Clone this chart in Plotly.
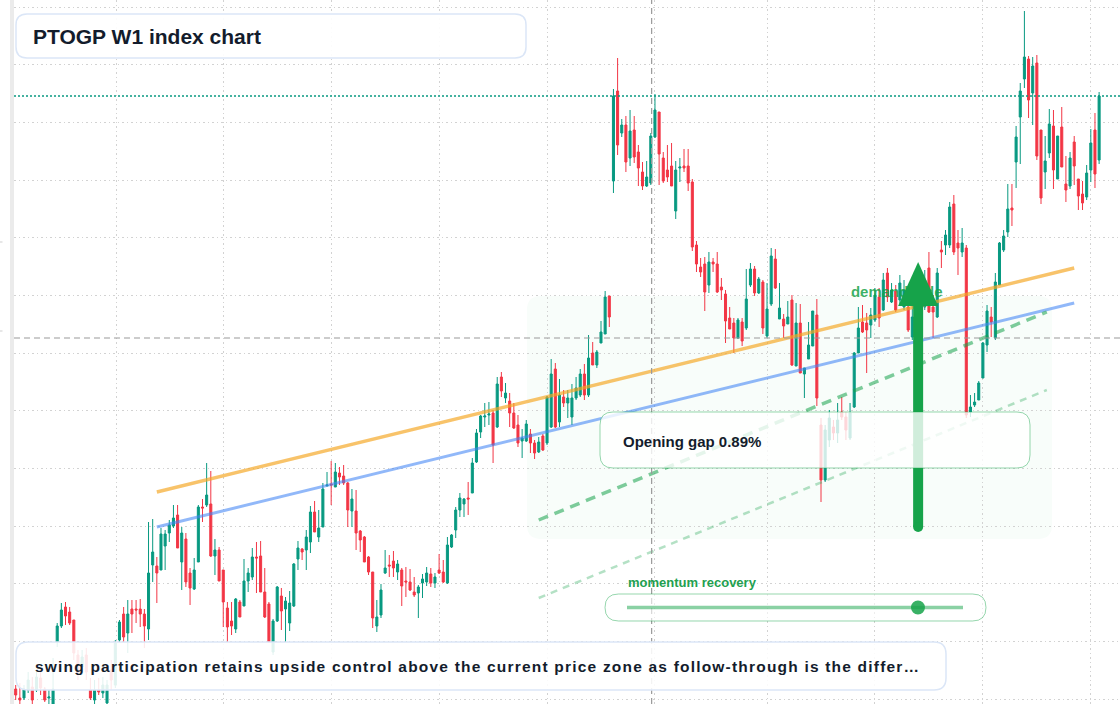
import plotly.graph_objects as go

# ---------------- data (weekly bars, index points) ----------------
open_ = [311, 302, 302, 310, 313, 310, 322, 311, 302, 296,
         358, 374, 393, 388, 380, 345, 333, 345, 310, 300,
         310, 307, 297, 330, 315, 360, 386, 367, 391, 391,
         391, 386, 371, 435, 434, 430, 454, 467, 474, 485,
         438, 461, 427, 411, 438, 493, 495, 496, 444, 450,
         430, 392, 379, 371, 398, 394, 419, 423, 443, 444,
         408, 396, 348, 379, 404, 391, 377, 394, 441, 451,
         450, 458, 488, 463, 473, 514, 516, 513, 527, 524,
         517, 489, 489, 469, 463, 443, 428, 374, 385, 427,
         435, 439, 428, 430, 419, 418, 408, 407, 417, 418,
         426, 417, 430, 428, 417, 453, 470, 490, 496, 502,
         507, 538, 568, 583, 585, 587, 573, 623, 602, 599,
         587, 575, 559, 559, 566, 557, 548, 564, 557, 573,
         631, 578, 603, 597, 583, 602, 605, 626, 605, 647,
         635, 657, 666, 704, 819, 909, 867, 875, 842, 870,
         848, 828, 814, 817, 863, 888, 842, 830, 834, 789,
         832, 834, 834, 818, 755, 733, 736, 715, 738, 736,
         713, 706, 682, 677, 662, 678, 672, 715, 731, 707,
         718, 664, 696, 741, 681, 681, 676, 700, 634, 677,
         626, 641, 654, 685, 575, 520, 560, 573, 567, 588,
         583, 562, 593, 647, 678, 677, 675, 680, 703, 690,
         727, 698, 709, 700, 693, 693, 663, 700, 675, 693,
         732, 693, 683, 750, 755, 755, 796, 757, 748, 752,
         588, 595, 600, 622, 655, 683, 662, 715, 750, 768,
         792, 838, 883, 921, 941, 907, 937, 870, 828, 847,
         874, 821, 873, 816, 814, 858, 821, 806, 803, 830,
         870, 840]
high = [315, 317, 315, 328, 323, 330, 328, 313, 310, 342,
        377, 397, 398, 393, 380, 350, 350, 352, 322, 320,
        322, 323, 320, 340, 360, 380, 393, 400, 400, 400,
        401, 391, 478, 481, 443, 472, 470, 480, 495, 495,
        473, 467, 432, 442, 495, 501, 537, 529, 461, 453,
        430, 398, 398, 402, 400, 441, 432, 452, 458, 459,
        432, 398, 381, 414, 412, 403, 409, 437, 459, 452,
        470, 494, 499, 490, 517, 528, 539, 537, 533, 535,
        518, 511, 510, 470, 464, 444, 428, 400, 416, 450,
        445, 449, 440, 432, 433, 431, 423, 415, 426, 433,
        432, 427, 446, 440, 463, 466, 493, 507, 502, 518,
        542, 571, 585, 597, 598, 590, 623, 628, 617, 607,
        597, 585, 571, 580, 571, 560, 563, 566, 604, 641,
        637, 621, 610, 610, 616, 623, 631, 636, 665, 658,
        650, 679, 709, 704, 911, 942, 881, 884, 890, 884,
        855, 838, 839, 867, 906, 888, 848, 855, 857, 839,
        842, 851, 851, 821, 759, 742, 743, 748, 742, 748,
        722, 710, 693, 682, 682, 682, 731, 737, 734, 723,
        720, 717, 752, 751, 717, 686, 699, 705, 697, 696,
        632, 678, 689, 701, 582, 575, 590, 580, 597, 603,
        588, 597, 648, 693, 695, 687, 692, 712, 712, 727,
        732, 717, 715, 725, 720, 703, 700, 710, 705, 730,
        748, 705, 732, 759, 770, 798, 805, 770, 772, 755,
        605, 607, 619, 658, 695, 693, 727, 758, 770, 816,
        816, 874, 917, 989, 944, 943, 945, 870, 864, 891,
        890, 864, 893, 844, 848, 864, 821, 819, 835, 871,
        887, 908]
low = [300, 296, 300, 307, 296, 308, 305, 298, 296, 294,
       353, 372, 375, 375, 340, 320, 325, 320, 300, 296,
       305, 302, 296, 310, 312, 358, 358, 347, 367, 377,
       373, 352, 360, 418, 397, 430, 430, 458, 472, 452,
       410, 413, 395, 410, 438, 478, 493, 443, 425, 419,
       373, 358, 365, 367, 383, 394, 408, 420, 407, 408,
       382, 357, 345, 378, 370, 358, 369, 393, 430, 440,
       430, 447, 468, 458, 473, 514, 495, 513, 515, 515,
       473, 473, 450, 448, 438, 425, 372, 368, 382, 426,
       423, 423, 420, 394, 403, 409, 403, 382, 402, 414,
       413, 412, 426, 417, 416, 452, 462, 483, 483, 485,
       507, 537, 562, 573, 575, 537, 572, 603, 597, 573,
       571, 553, 542, 558, 547, 541, 547, 549, 555, 572,
       572, 573, 593, 582, 575, 600, 603, 600, 603, 635,
       632, 657, 666, 673, 807, 845, 863, 828, 834, 837,
       814, 810, 813, 815, 862, 815, 817, 818, 814, 781,
       818, 828, 809, 749, 728, 723, 689, 707, 728, 707,
       700, 657, 671, 647, 661, 654, 670, 713, 704, 706,
       666, 662, 694, 711, 681, 662, 676, 634, 634, 627,
       602, 641, 654, 594, 498, 518, 553, 560, 557, 580,
       560, 560, 592, 647, 667, 627, 662, 678, 673, 689,
       698, 697, 688, 695, 690, 668, 660, 675, 670, 690,
       687, 662, 682, 732, 745, 752, 745, 725, 743, 582,
       583, 593, 600, 622, 648, 663, 660, 715, 748, 763,
       774, 812, 836, 912, 882, 875, 840, 796, 811, 842,
       811, 821, 833, 798, 811, 815, 790, 790, 800, 818,
       812, 836]
close = [305, 300, 311, 320, 300, 323, 312, 300, 303, 311,
         374, 390, 384, 377, 347, 327, 343, 328, 302, 310,
         308, 315, 315, 320, 357, 378, 363, 386, 386, 390,
         386, 374, 427, 448, 427, 466, 466, 475, 482, 452,
         467, 418, 412, 430, 493, 492, 505, 444, 450, 419,
         398, 373, 374, 401, 383, 419, 427, 443, 442, 408,
         383, 358, 379, 413, 389, 399, 397, 436, 452, 448,
         463, 488, 468, 472, 511, 515, 515, 528, 523, 517,
         490, 501, 467, 460, 438, 428, 382, 383, 410, 432,
         434, 432, 436, 414, 418, 410, 405, 413, 421, 427,
         417, 423, 427, 418, 455, 465, 490, 502, 501, 501,
         537, 567, 584, 584, 586, 555, 616, 609, 607, 587,
         572, 557, 562, 576, 557, 547, 558, 550, 603, 626,
         573, 605, 597, 602, 602, 612, 626, 605, 642, 635,
         648, 668, 703, 683, 904, 855, 875, 838, 869, 843,
         832, 814, 823, 864, 890, 846, 819, 823, 814, 830,
         833, 832, 817, 753, 736, 728, 708, 738, 736, 708,
         710, 679, 671, 662, 680, 659, 701, 731, 707, 721,
         672, 691, 744, 712, 692, 674, 683, 635, 677, 627,
         632, 655, 689, 602, 520, 570, 582, 567, 580, 583,
         570, 587, 647, 672, 668, 670, 685, 705, 682, 720,
         703, 710, 690, 717, 710, 670, 683, 680, 695, 720,
         688, 688, 727, 748, 765, 793, 748, 752, 757, 585,
         593, 598, 617, 657, 689, 678, 718, 757, 764, 791,
         790, 863, 909, 943, 900, 934, 844, 802, 839, 876,
         830, 864, 833, 810, 842, 834, 804, 797, 827, 857,
         826, 904]

# trend / channel lines: [start bar, end bar], [start value, end value]
resistance_x = [34, 255]
resistance_y = [508, 732]
support_x = [34, 255]
support_y = [473, 697]
proj_upper_x = [126, 248.4]
proj_upper_y = [480, 688]
proj_lower_x = [126, 248.4]
proj_lower_y = [402, 610]

# zones / markers
arrow_bar = 217.4
arrow_from, arrow_to = 470, 738
cross_bar, cross_price = 153.2, 662
grid_bars = [24.3, 50, 76, 102, 128, 154, 181, 207, 233, 259]
momentum_level = 0.866

title_text = "PTOGP W1 index chart"
note_text = ("swing participation retains upside control above the current price zone "
             "as follow-through is the differ\u2026")
gap_text = "Opening gap 0.89%"
zone_label = "demand side"
momentum_label = "momentum recovery"

# ---------------- figure ----------------
W, H = 1120, 704
ML = 14
PW, PH = W - ML, H
n = len(close)
bars = list(range(n))
hi = [max(a, b, c) for a, b, c in zip(high, open_, close)]
lo = [min(a, b, c) for a, b, c in zip(low, open_, close)]

UP, DN = "#089981", "#f23645"
GREEN = "#16a34a"
FONT = "Liberation Sans, Arial, sans-serif"
INK = "#131c2c"

fig = go.Figure()
fig.add_trace(go.Candlestick(
    x=bars, open=open_, high=hi, low=lo, close=close,
    increasing=dict(line=dict(color=UP, width=1), fillcolor=UP),
    decreasing=dict(line=dict(color=DN, width=1), fillcolor=DN),
    whiskerwidth=0, hoverinfo="skip", showlegend=False))

fig.add_trace(go.Scatter(x=resistance_x, y=resistance_y, mode="lines",
                         line=dict(color="rgba(245,166,35,0.68)", width=3.5),
                         hoverinfo="skip", showlegend=False))
fig.add_trace(go.Scatter(x=support_x, y=support_y, mode="lines",
                         line=dict(color="rgba(66,133,244,0.58)", width=3),
                         hoverinfo="skip", showlegend=False))
fig.add_trace(go.Scatter(x=proj_upper_x, y=proj_upper_y, mode="lines",
                         line=dict(color="rgba(22,163,74,0.55)", width=3.5, dash="10px,7px"),
                         hoverinfo="skip", showlegend=False))
fig.add_trace(go.Scatter(x=proj_lower_x, y=proj_lower_y, mode="lines",
                         line=dict(color="rgba(22,163,74,0.32)", width=2.5, dash="7px,6px"),
                         hoverinfo="skip", showlegend=False))
fig.add_trace(go.Scatter(x=[201.2], y=[707], mode="text", text=[zone_label],
                         textposition="middle right",
                         textfont=dict(family=FONT, size=15, color="rgba(22,163,74,0.85)",
                                       weight="bold"),
                         hoverinfo="skip", showlegend=False))


def P(x, y):
    return f"{(x - ML) / PW:.5f},{1 - y / PH:.5f}"


def rrect(x0, y0, x1, y1, r):
    return (f"M{P(x0 + r, y0)} L{P(x1 - r, y0)} Q{P(x1, y0)} {P(x1, y0 + r)} "
            f"L{P(x1, y1 - r)} Q{P(x1, y1)} {P(x1 - r, y1)} L{P(x0 + r, y1)} "
            f"Q{P(x0, y1)} {P(x0, y1 - r)} L{P(x0, y0 + r)} Q{P(x0, y0)} {P(x0 + r, y0)} Z")


shapes = []
# green zone (behind candles)
shapes.append(dict(type="path", xref="paper", yref="paper", path=rrect(527, 296, 1052, 539, 14),
                   layer="below", fillcolor="rgba(34,197,94,0.03)", line=dict(width=0)))
# left strip
shapes.append(dict(type="rect", xref="paper", yref="paper", x0=-4 / PW, x1=0, y0=0, y1=1,
                   fillcolor="#ebebeb", line=dict(width=0), layer="above"))
for ty in (242, 331):
    shapes.append(dict(type="line", xref="paper", yref="paper", x0=-14 / PW, x1=-11.5 / PW,
                       y0=1 - ty / PH, y1=1 - ty / PH, line=dict(color="#cfcfcf", width=1)))
# crosshair
shapes.append(dict(type="line", xref="paper", yref="y", x0=0, x1=1, y0=cross_price, y1=cross_price,
                   line=dict(color="#9a9a9a", width=1.2, dash="6px,4px"), layer="above"))
shapes.append(dict(type="line", xref="x", yref="paper", x0=cross_bar, x1=cross_bar, y0=0, y1=1,
                   line=dict(color="#9a9a9a", width=1.2, dash="6px,4px"), layer="above"))
# last price line
shapes.append(dict(type="line", xref="paper", yref="y", x0=0, x1=1, y0=close[-1], y1=close[-1],
                   line=dict(color=UP, width=1.5, dash="2px,2px"), layer="above"))
# arrow
shapes.append(dict(type="line", xref="x", yref="y", x0=arrow_bar, x1=arrow_bar,
                   y0=arrow_from + 3, y1=arrow_to - 40, line=dict(color=GREEN, width=10), layer="above"))
rx, ry = 5 / 4.151, 5
shapes.append(dict(type="circle", xref="x", yref="y", x0=arrow_bar - rx, x1=arrow_bar + rx,
                   y0=arrow_from - ry + 3, y1=arrow_from + ry + 3, fillcolor=GREEN,
                   line=dict(width=0), layer="above"))
hw = 20 / 4.151
shapes.append(dict(type="path", xref="x", yref="y",
                   path=f"M{arrow_bar - hw},{arrow_to - 44} L{arrow_bar},{arrow_to} L{arrow_bar + hw},{arrow_to - 44} Z",
                   fillcolor=GREEN, line=dict(width=0), layer="above"))
# opening gap box
shapes.append(dict(type="path", xref="paper", yref="paper", path=rrect(600, 412, 1030, 468, 13),
                   fillcolor="rgba(255,255,255,0.8)", line=dict(color="rgba(22,163,74,0.45)", width=1),
                   layer="above"))
# momentum pill
shapes.append(dict(type="path", xref="paper", yref="paper", path=rrect(605, 594, 986, 621, 13.5),
                   fillcolor="rgba(255,255,255,0.6)", line=dict(color="rgba(22,163,74,0.45)", width=1),
                   layer="above"))
tx0, tx1, ty = 627, 963, 607.5
shapes.append(dict(type="line", xref="paper", yref="paper", x0=(tx0 - ML) / PW, x1=(tx1 - ML) / PW,
                   y0=1 - ty / PH, y1=1 - ty / PH, line=dict(color="rgba(22,163,74,0.5)", width=3.5),
                   layer="above"))
kx = tx0 + momentum_level * (tx1 - tx0)
shapes.append(dict(type="circle", xref="paper", yref="paper", x0=(kx - 7 - ML) / PW, x1=(kx + 7 - ML) / PW,
                   y0=1 - (ty + 7) / PH, y1=1 - (ty - 7) / PH, fillcolor="rgba(22,163,74,0.85)",
                   line=dict(width=0), layer="above"))
# note box and title box
shapes.append(dict(type="path", xref="paper", yref="paper", path=rrect(16, 642, 946, 690, 12),
                   fillcolor="rgba(255,255,255,0.88)", line=dict(color="#dbe6f7", width=1.5),
                   layer="above"))
shapes.append(dict(type="path", xref="paper", yref="paper", path=rrect(16, 14, 526, 58, 11),
                   fillcolor="rgba(255,255,255,0.92)", line=dict(color="#dbe6f7", width=1.5),
                   layer="above"))

annotations = [
    dict(text=title_text, xref="paper", yref="paper", x=(31 - ML) / PW, y=1 - 36 / PH,
         xanchor="left", yanchor="middle", showarrow=False,
         font=dict(family=FONT, size=21, color=INK, weight="bold")),
    dict(text=f'<span style="letter-spacing:1.2px">{note_text}</span>', xref="paper", yref="paper",
         x=(33 - ML) / PW, y=1 - 666 / PH,
         xanchor="left", yanchor="middle", showarrow=False,
         font=dict(family=FONT, size=15.5, color=INK, weight="bold")),
    dict(text=gap_text, xref="paper", yref="paper", x=(621 - ML) / PW, y=1 - 441 / PH,
         xanchor="left", yanchor="middle", showarrow=False,
         font=dict(family=FONT, size=15, color=INK, weight="bold")),
    dict(text=momentum_label, xref="paper", yref="paper", x=(626 - ML) / PW, y=1 - 582 / PH,
         xanchor="left", yanchor="middle", showarrow=False,
         font=dict(family=FONT, size=13, color="#22a04f", weight="bold")),
]

fig.update_layout(
    width=W, height=H, margin=dict(l=ML, r=0, t=0, b=0, pad=0),
    paper_bgcolor="white", plot_bgcolor="white",
    shapes=shapes, annotations=annotations, showlegend=False,
    xaxis=dict(range=[-0.41, 266.03], tickmode="array", tickvals=grid_bars,
               showticklabels=False, ticks="", showgrid=True, gridcolor="#d2d2d2",
               griddash="1.5px,3px", gridwidth=1, zeroline=False, showline=False,
               rangeslider=dict(visible=False), fixedrange=True),
    yaxis=dict(range=[296, 1000], tickmode="linear", tick0=993, dtick=57.67,
               showticklabels=False, ticks="", showgrid=True, gridcolor="#d2d2d2",
               griddash="1.5px,3px", gridwidth=1, zeroline=False, showline=False,
               fixedrange=True),
)

fig.write_html("out.html")
